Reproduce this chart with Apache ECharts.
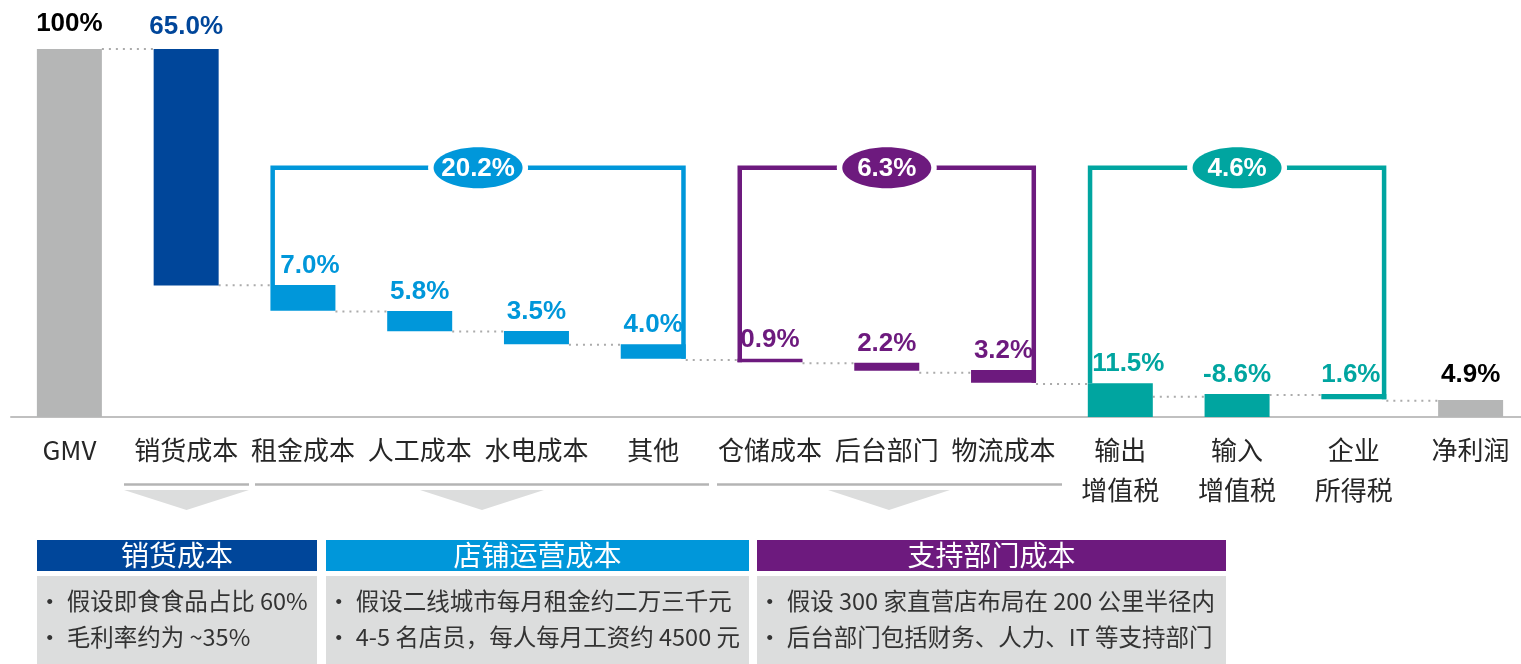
<!DOCTYPE html>
<html>
<head>
<meta charset="utf-8">
<script src="https://cdn.jsdelivr.net/npm/echarts@6/dist/echarts.min.js"></script>
<style>
html, body { margin: 0; padding: 0; background: #fff; }
#main { width: 1521px; height: 664px; }
</style>
</head>
<body>
<div id="main"></div>
<script>
// categories + value labels
var categories = ['GMV', '销货成本', '租金成本', '人工成本', '水电成本', '其他', '仓储成本', '后台部门', '物流成本', '输出\n增值税', '输入\n增值税', '企业\n所得税', '净利润'];
var valueLabels = ['100%', '65.0%', '7.0%', '5.8%', '3.5%', '4.0%', '0.9%', '2.2%', '3.2%', '11.5%', '-8.6%', '1.6%', '4.9%'];

// bar bottom / top as drawn in the picture (% of GMV)
var barLow  = [0, 35.7, 28.9, 23.3, 19.8, 15.8, 14.9, 12.6, 9.3, 0, 0, 4.8, 0];
var barHigh = [100, 100, 35.9, 28.8, 23.4, 19.8, 15.8, 14.75, 12.8, 9.2, 6.25, 6.25, 4.6];
var barGroup = [0, 1, 2, 2, 2, 2, 3, 3, 3, 4, 4, 4, 0];

// dotted connector level between bar i and bar i+1
var linkLevel = [100, 35.8, 28.7, 23.2, 19.6, 15.5, 14.6, 12.0, 9.0, 5.5, 6.0, 4.4];

// brackets over the cost groups
var groupStart = [2, 6, 9];
var groupEnd = [5, 8, 11];
var groupTotal = ['20.2%', '6.3%', '4.6%'];
var groupTop = [67.7, 67.7, 67.7];
var groupLeftEnd = [35.9, 14.9, 9.2];
var groupRightEnd = [15.8, 9.3, 4.8];

// notes under the chart
var noteTitles = ['销货成本', '店铺运营成本', '支持部门成本'];
var noteLines = [
  ['· 假设即食食品占比 60%', '· 毛利率约为 ~35%'],
  ['· 假设二线城市每月租金约二万三千元', '· 4-5 名店员，每人每月工资约 4500 元'],
  ['· 假设 300 家直营店布局在 200 公里半径内', '· 后台部门包括财务、人力、IT 等支持部门']
];

var palette = ['#B5B6B6', '#00469A', '#0097DA', '#6D1A7E', '#00A5A0'];
var textColor = ['#000000', '#00469A', '#0097DA', '#6D1A7E', '#00A5A0'];
var BAR_W = 65;
var HALF = BAR_W / 2;
var numFont = '"Liberation Sans", Arial, sans-serif';
var cjkFont = '"Noto Sans CJK SC", "Noto Sans", sans-serif';
// small horizontal nudges of a few labels, as in the original slide
var labelShift = { 2: 7, 9: 8, 11: -3 };

var chart = echarts.init(document.getElementById('main'));

var visibleData = barHigh.map(function (h, i) {
  var g = barGroup[i];
  return {
    value: +(h - barLow[i]).toFixed(2),
    itemStyle: { color: palette[g] },
    label: {
      color: textColor[g],
      distance: g === 0 ? 12 : (g === 1 ? 9 : 6),
      offset: [labelShift[i] || 0, 0]
    }
  };
});

// bottom boxes (layout only)
var boxX = [37, 326, 757];
var boxW = [280, 423, 469];
var boxColor = ['#00469A', '#0097DA', '#6D1A7E'];
var graphics = [];
// separator lines + arrows
[[124, 249], [255, 709], [717, 1062]].forEach(function (s) {
  graphics.push({ type: 'line', shape: { x1: s[0], y1: 484.5, x2: s[1], y2: 484.5 }, style: { stroke: '#B4B4B4', lineWidth: 2.5 } });
});
[[124, 249], [420, 544], [828, 950]].forEach(function (s) {
  graphics.push({ type: 'polygon', shape: { points: [[s[0], 490], [s[1], 490], [(s[0] + s[1]) / 2, 510]] }, style: { fill: '#DCDDDD' } });
});
for (var k = 0; k < 3; k++) {
  graphics.push({ type: 'rect', shape: { x: boxX[k], y: 540, width: boxW[k], height: 31 }, style: { fill: boxColor[k] } });
  graphics.push({ type: 'text', style: { x: boxX[k] + boxW[k] / 2, y: 555, text: noteTitles[k], align: 'center', verticalAlign: 'middle', fill: '#fff', fontSize: 28, fontFamily: cjkFont } });
  graphics.push({ type: 'rect', shape: { x: boxX[k], y: 576, width: boxW[k], height: 88 }, style: { fill: '#DCDDDD' } });
  for (var j = 0; j < 2; j++) {
    graphics.push({ type: 'text', style: { x: boxX[k] + 1, y: 601 + j * 36.5, text: noteLines[k][j], align: 'left', verticalAlign: 'middle', fill: '#333', fontSize: 23.5, fontFamily: cjkFont } });
  }
}

chart.setOption({
  animation: false,
  grid: { left: 11, width: 1518, top: 49, bottom: 247, outerBoundsMode: 'none', containLabel: false },
  xAxis: {
    type: 'category',
    data: categories,
    axisTick: { show: false },
    axisLine: { lineStyle: { color: '#C0C0C0', width: 2 } },
    axisLabel: {
      interval: 0,
      margin: 13,
      fontSize: 26,
      lineHeight: 40,
      color: '#262626',
      fontFamily: cjkFont
    }
  },
  yAxis: { type: 'value', min: 0, max: 100, show: false },
  graphic: graphics,
  series: [
    {
      type: 'bar',
      stack: 'w',
      barWidth: BAR_W,
      silent: true,
      itemStyle: { color: 'transparent' },
      data: barLow
    },
    {
      type: 'bar',
      stack: 'w',
      barWidth: BAR_W,
      data: visibleData,
      z: 3,
      label: {
        show: true,
        position: 'top',
        fontSize: 26,
        fontWeight: 'bold',
        fontFamily: numFont,
        formatter: function (p) { return valueLabels[p.dataIndex]; }
      }
    },
    {
      // dotted connectors
      type: 'custom',
      z: 1,
      silent: true,
      encode: { x: 0, y: 1 },
      data: linkLevel.map(function (v, i) { return [i, v]; }),
      renderItem: function (params, api) {
        var i = api.value(0), lvl = api.value(1);
        var p1 = api.coord([i, lvl]);
        var p2 = api.coord([i + 1, lvl]);
        return {
          type: 'line',
          shape: { x1: p1[0] + HALF, y1: p1[1], x2: p2[0] - HALF, y2: p2[1] },
          style: { stroke: '#ABABAB', lineWidth: 2, lineDash: [2, 5] }
        };
      }
    },
    {
      // group brackets with total bubble
      type: 'custom',
      z: 5,
      silent: true,
      encode: { x: 0, y: 2 },
      data: groupStart.map(function (s, k) {
        return [s, groupEnd[k], groupTop[k], groupLeftEnd[k], groupRightEnd[k], k];
      }),
      renderItem: function (params, api) {
        var s = api.value(0), e = api.value(1), top = api.value(2);
        var lb = api.value(3), rb = api.value(4), k = api.value(5);
        var c = palette[k + 2];
        var lw = 4.5;
        var pL = api.coord([s, top]);
        var pR = api.coord([e, top]);
        var xL = pL[0] - HALF + lw / 2;
        var xR = pR[0] + HALF - lw / 2;
        var yT = pL[1];
        var yLB = api.coord([s, lb])[1];
        var yRB = api.coord([e, rb])[1];
        var cx = (xL + xR) / 2;
        return {
          type: 'group',
          children: [
            { type: 'polyline', shape: { points: [[xL, yLB], [xL, yT], [xR, yT], [xR, yRB]] }, style: { stroke: c, lineWidth: lw, fill: null } },
            { type: 'ellipse', shape: { cx: cx, cy: yT, rx: 50, ry: 26 }, style: { fill: '#fff' } },
            { type: 'ellipse', shape: { cx: cx, cy: yT, rx: 44.5, ry: 20.5 }, style: { fill: c } },
            { type: 'text', style: { x: cx, y: yT + 1, text: groupTotal[k], align: 'center', verticalAlign: 'middle', fill: '#fff', fontSize: 26, fontWeight: 'bold', fontFamily: numFont } }
          ]
        };
      }
    }
  ]
});
</script>
</body>
</html>
